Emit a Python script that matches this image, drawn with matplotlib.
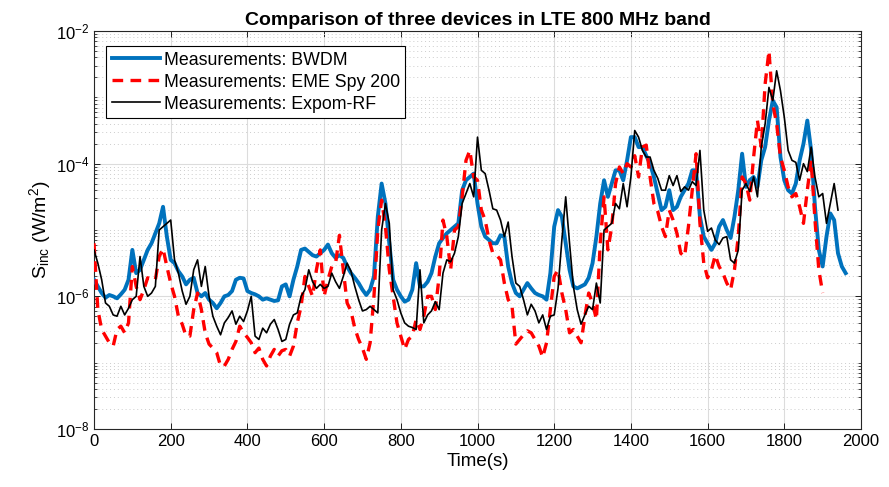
import numpy as np
import matplotlib
matplotlib.use("Agg")
import matplotlib.pyplot as plt
from matplotlib.ticker import FixedLocator, NullFormatter

plt.rcParams['font.family'] = ['Liberation Sans', 'DejaVu Sans']
plt.rcParams['mathtext.default'] = 'regular'

step = 10  # seconds between samples

# log10 of incident power density (W/m^2), sampled every 10 s
bwdm_log = [
    -5.75, -5.85, -5.95, -6.02, -5.98, -6.0, -6.03, -5.97, -5.9, -5.75,
    -5.3, -5.65, -5.6, -5.45, -5.3, -5.2, -5.05, -4.9, -4.65, -5.1,
    -5.45, -5.5, -5.62, -5.7, -5.82, -5.75, -5.72, -5.95, -6.0, -5.95,
    -6.05, -6.1, -6.18, -6.1, -6.0, -5.98, -5.92, -5.75, -5.72, -5.73,
    -5.92, -5.95, -5.97, -6.0, -6.05, -6.03, -6.05, -6.07, -6.06, -5.85,
    -5.82, -6.0, -5.75, -5.55, -5.3, -5.28, -5.33, -5.38, -5.4, -5.35,
    -5.3, -5.22, -5.35, -5.42, -5.38, -5.42, -5.55, -5.65, -5.72, -5.8,
    -5.9, -5.98, -5.9, -5.7, -4.8, -4.3, -4.6, -5.2, -5.75, -5.9,
    -6.0, -6.08, -6.05, -5.9, -5.5, -5.85, -5.85, -5.78, -5.65, -5.4,
    -5.2, -5.12, -5.05, -5.0, -4.95, -4.9, -4.4, -4.25, -4.2, -4.15,
    -4.6, -4.95, -5.1, -5.15, -5.2, -5.2, -5.08, -5.1, -5.55, -5.8,
    -5.95, -6.0, -5.9, -5.8, -5.88, -5.95, -5.98, -6.0, -6.05, -5.65,
    -4.95, -4.7, -4.8, -5.2, -5.6, -5.85, -5.88, -5.85, -5.82, -5.72,
    -5.5, -5.1, -4.6, -4.25, -4.5, -4.3, -4.1, -4.1, -4.25, -3.95,
    -3.6, -3.6, -3.75, -3.75, -3.88, -4.0, -4.2, -4.45, -4.7, -4.65,
    -4.4, -4.7, -4.65, -4.5, -4.4, -4.3, -4.1, -4.1, -4.8, -5.1,
    -5.2, -5.3, -5.2, -4.95, -4.85, -5.0, -5.12, -4.8, -4.4, -3.85,
    -4.35, -4.25, -4.2, -4.35, -3.95, -3.75, -3.35, -3.05, -3.15, -3.9,
    -4.25, -4.4, -4.45, -4.3, -3.95, -3.7, -3.35, -3.8, -4.65, -5.3,
    -5.55, -5.1, -4.75, -4.85, -5.35, -5.55, -5.65,
]

eme_log = [
    -5.2, -6.2, -6.5, -6.6, -6.7, -6.75, -6.5, -6.45, -6.55, -6.4,
    -5.55, -5.85, -6.05, -5.9, -5.72, -5.75, -5.75, -5.4, -5.28, -5.55,
    -5.8, -6.0, -6.3, -6.42, -6.6, -6.6, -6.2, -5.95, -6.2, -6.55,
    -6.72, -6.78, -6.85, -7.05, -7.05, -6.95, -6.8, -6.68, -6.45, -6.55,
    -6.62, -6.7, -6.85, -6.78, -6.95, -7.05, -6.9, -6.8, -6.9, -6.82,
    -6.8, -6.9, -6.75, -6.4, -6.15, -5.7, -5.85, -6.0, -5.6, -5.3,
    -6.0, -5.75, -5.55, -5.5, -5.08, -5.6, -6.1, -6.22, -6.48, -6.65,
    -6.78, -6.95, -6.7, -6.0, -5.0, -4.55, -4.95, -5.6, -6.0, -6.4,
    -6.6, -6.8, -6.65, -6.6, -6.35, -6.5, -6.3, -6.0, -6.0, -6.2,
    -5.7, -4.85, -5.1, -5.6, -5.0, -4.95, -4.5, -3.95, -3.8, -4.2,
    -4.25, -4.7, -4.85, -5.15, -5.35, -5.38, -5.45, -5.8, -6.05, -6.15,
    -6.72, -6.65, -6.58, -6.52, -6.55, -6.65, -6.75, -6.92, -6.7, -6.2,
    -5.7, -5.6, -5.95, -6.2, -6.55, -6.5, -6.6, -6.7, -6.3, -5.95,
    -6.1, -6.35, -5.2, -4.5, -5.3, -4.95, -4.3, -4.05, -4.15, -4.0,
    -4.05, -3.88, -4.2, -3.75, -3.72, -4.2, -4.6, -4.72, -4.95, -5.1,
    -4.7, -4.85, -5.05, -5.35, -5.4, -4.95, -4.4, -3.85, -4.9, -5.5,
    -5.72, -5.6, -5.38, -5.55, -5.65, -5.8, -5.9, -5.6, -5.1, -4.2,
    -4.3, -4.55, -3.9, -3.35, -3.75, -2.8, -2.3, -3.1, -3.4, -3.9,
    -4.1, -4.35, -4.5, -4.45, -4.65, -4.9, -4.4, -3.95, -4.85, -5.6,
    -5.95,
]

expom_log = [
    -5.3, -5.5, -5.75, -6.1, -6.15, -6.28, -6.3, -6.15, -6.28, -6.18,
    -6.05, -6.0, -5.4, -5.85, -6.0, -5.95, -5.85, -5.0, -4.95, -4.9,
    -4.85, -5.45, -5.65, -5.92, -6.12, -6.0, -5.6, -5.45, -5.85, -5.55,
    -6.0, -6.3, -6.45, -6.58, -6.4, -6.32, -6.22, -6.42, -6.3, -6.38,
    -6.22, -6.0, -6.6, -6.65, -6.48, -6.55, -6.42, -6.35, -6.5, -6.68,
    -6.65, -6.42, -6.28, -6.25, -6.0, -5.9, -5.6, -5.78, -5.88, -5.82,
    -5.88, -5.85, -5.65, -5.78, -5.88, -5.7, -5.5, -5.62, -5.85, -6.05,
    -6.22, -6.2, -6.15, -6.2, -6.25, -5.0, -4.6, -4.9, -5.9, -6.05,
    -6.25, -6.4, -6.45, -6.47, -6.5, -5.6, -6.4, -6.28, -6.22, -6.08,
    -6.2, -5.65, -5.45, -5.48, -5.35, -5.1, -4.6, -4.45, -4.3, -4.5,
    -3.6, -4.1, -4.15, -4.4, -4.68, -4.7, -4.85, -5.1, -4.88, -5.4,
    -5.8, -5.85, -6.05, -6.28, -6.12, -6.22, -6.4, -6.28, -6.5, -6.3,
    -6.28, -5.88, -5.15, -4.5, -5.2, -5.85, -6.2, -6.42, -6.28, -6.15,
    -6.2, -5.8, -6.1, -5.0, -4.95, -4.9, -4.6, -4.68, -4.3, -4.65,
    -4.2, -3.5, -3.6, -3.8, -3.9, -3.9, -4.1, -4.22, -4.4, -4.4,
    -4.18, -4.33, -4.18, -4.42, -4.35, -4.4, -4.27, -4.33, -3.8, -4.7,
    -5.02, -4.97, -5.15, -5.22, -5.12, -5.1, -5.45, -5.5, -5.3, -4.4,
    -4.3, -4.42, -4.2, -4.5, -3.75, -3.4, -2.85, -3.05, -2.6, -2.9,
    -3.3, -3.8, -3.95, -3.98, -4.25, -4.0, -4.12, -3.75, -4.2, -4.5,
    -4.45, -4.9, -4.6, -4.3, -4.7,
]

labels = ["Measurements: BWDM", "Measurements: EME Spy 200", "Measurements: Expom-RF"]
title = "Comparison of three devices in LTE 800 MHz band"
xlabel = "Time(s)"
ylabel = r"S$_{inc}$ (W/m$^{2}$)"
xticks = list(range(0, 2001, 200))
yticks = [1e-8, 1e-6, 1e-4, 1e-2]

fig = plt.figure(figsize=(8.89, 4.87), dpi=100)
ax = fig.add_axes([94/889, 1-429/487, (861-94)/889, (429-31)/487])

def series(vals):
    v = np.array(vals)
    return np.arange(len(v)) * step, 10.0 ** v

t, y = series(bwdm_log)
ax.plot(t, y, color='#0072BD', lw=2.8, label=labels[0], zorder=3)
t, y = series(eme_log)
ax.plot(t, y, color='#FF0000', lw=2.4, ls=(0, (3.2, 2.2)), label=labels[1], zorder=4)
t, y = series(expom_log)
ax.plot(t, y, color='black', lw=1.2, label=labels[2], zorder=5)

ax.set_yscale('log')
ax.set_xlim(0, 2000)
ax.set_ylim(1e-8, 1e-2)
ax.set_xticks(xticks)
ax.set_yticks(yticks)
minor = []
for e in range(-8, -2):
    for k in range(1, 10):
        v = k * 10.0 ** e
        if k == 1 and e % 2 == 0:
            continue
        minor.append(v)
ax.yaxis.set_minor_locator(FixedLocator(minor))
ax.yaxis.set_minor_formatter(NullFormatter())

ax.grid(True, which='major', color='#dcdcdc', lw=0.8, ls='-')
ax.grid(True, which='minor', axis='y', color='#cccccc', lw=0.7, ls=(0, (1, 3)))
ax.set_axisbelow(True)

ax.tick_params(which='both', direction='in', top=True, right=True, labelsize=12, colors='black')
ax.tick_params(which='major', length=4, width=0.6)
ax.tick_params(which='minor', length=2, width=0.5)
for s in ax.spines.values():
    s.set_linewidth(0.8)
    s.set_color('#262626')

ax.set_title(title, fontsize=14, fontweight='bold', pad=4)
ax.set_xlabel(xlabel, fontsize=13.5, labelpad=3)
ax.set_ylabel(ylabel, fontsize=14, labelpad=2)

leg = ax.legend(loc='upper left', bbox_to_anchor=(0.009, 0.975), fontsize=12.8, frameon=True,
                fancybox=False, edgecolor='black', framealpha=1, borderpad=0.3,
                handlelength=2.7, handletextpad=0.25, labelspacing=0.28, borderaxespad=0.3)
leg.get_frame().set_linewidth(0.8)

fig.savefig('out.png', dpi=100)
